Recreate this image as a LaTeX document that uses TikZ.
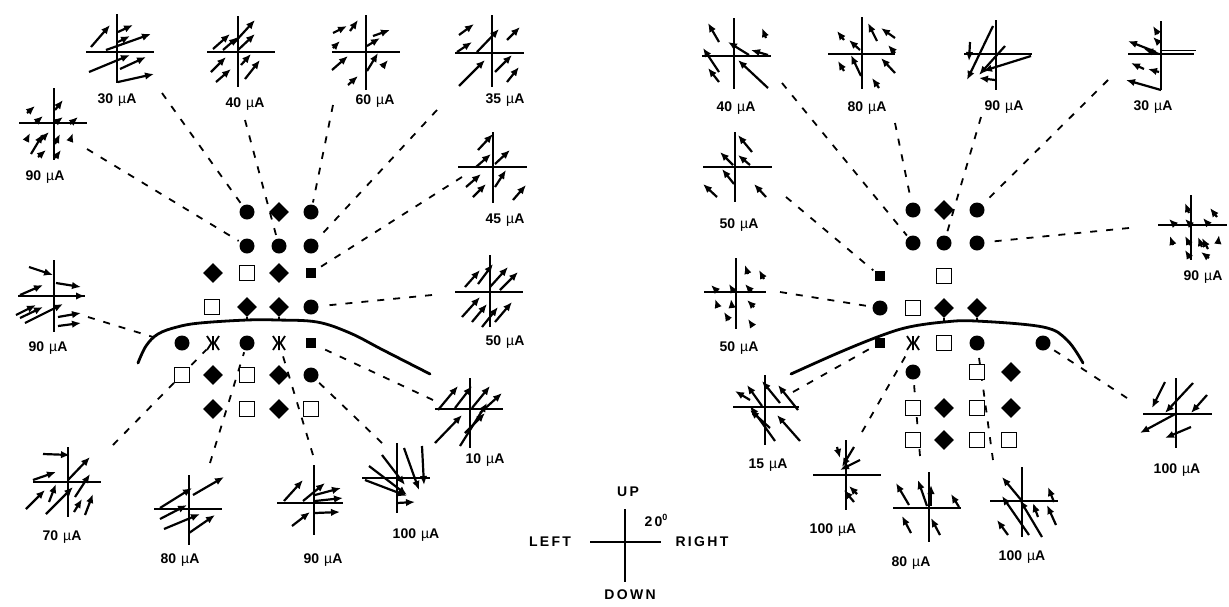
\documentclass[tikz,border=0pt]{standalone}
\usepackage{fontspec}
\setmainfont{Liberation Sans}
\usetikzlibrary{arrows.meta,shapes.geometric}
\pgfdeclarelayer{background}
\pgfsetlayers{background,main}
\newcommand\ua[1]{#1\hspace{5pt}{\mdseries µ}A}
\newcommand\vecpanel[7]{%
  \begin{scope}[shift={(#1,#2)}]
    \draw[axisline] (#3,0) -- (#4,0);
    \draw[axisline] (0,#5) -- (0,#6);
    \foreach \a/\b/\c/\d in {#7} {\draw[vec] (\a,\b) -- (\c,\d);}
  \end{scope}}
\begin{document}
\begin{tikzpicture}[x=1pt,y=-1pt,
  axisline/.style={line width=2.2pt},
  vec/.style={line width=2.2pt,-{Latex[length=9pt,width=7.5pt]}},
  conn/.style={line width=1.8pt,dash pattern=on 7pt off 9pt,shorten >=2pt},
  dot/.style={circle,fill=black,inner sep=0pt,minimum size=15pt},
  dia/.style={diamond,fill=black,inner sep=0pt,minimum size=20pt},
  osq/.style={rectangle,draw=black,fill=white,line width=1.6pt,inner sep=0pt,minimum size=15pt},
  fsq/.style={rectangle,fill=black,inner sep=0pt,minimum size=10pt},
  zhe/.style={circle,inner sep=0pt,minimum size=14pt},
  zhemark/.pic={\draw[line width=1.8pt] (0,-7) -- (0,7) (-6,-7) -- (-1.5,0) -- (-6,7) (6,-7) -- (1.5,0) -- (6,7) (-1.5,0) -- (1.5,0);},
  lab/.style={font=\fontsize{14}{16}\selectfont\bfseries,inner sep=0pt},
  curve/.style={line width=2.8pt,line cap=round}]
\useasboundingbox (0,0) rectangle (1229,606);

% ---------------- left markers ----------------
\node[dot] (L13) at (247,212) {};
\node[dia] (L14) at (279,212) {};
\node[dot] (L15) at (311,212) {};
\node[dot] (L23) at (247,246) {};
\node[dot] (L24) at (279,246) {};
\node[dot] (L25) at (311,246) {};
\node[dia] (L32) at (213,273) {};
\node[osq] (L33) at (247,273) {};
\node[dia] (L34) at (279,273) {};
\node[fsq] (L35) at (311,273) {};
\node[osq] (L42) at (212,307) {};
\node[dia] (L43) at (247,307) {};
\node[dia] (L44) at (279,307) {};
\node[dot] (L45) at (311,307) {};
\node[dot] (L51) at (182,343) {};
\node[zhe] (L52) at (213,343) {};
\node[dot] (L53) at (247,343) {};
\node[zhe] (L54) at (279,343) {};
\node[fsq] (L55) at (311,343) {};
\node[osq] (L61) at (182,375) {};
\node[dia] (L62) at (213,375) {};
\node[osq] (L63) at (247,375) {};
\node[dia] (L64) at (279,375) {};
\node[dot] (L65) at (311,375) {};
\node[dia] (L72) at (213,409) {};
\node[osq] (L73) at (247,409) {};
\node[dia] (L74) at (279,409) {};
\node[osq] (L75) at (311,409) {};
\pic at (L52) {zhemark};
\pic at (L54) {zhemark};
\draw[line width=1.6pt] (L43.south) -- ++(0,4);
\draw[line width=1.6pt] (L44.south) -- ++(0,4);

% ---------------- right markers ----------------
\node[dot] (R11) at (913,210) {};
\node[dia] (R12) at (944,210) {};
\node[dot] (R13) at (977,210) {};
\node[dot] (R21) at (913,243) {};
\node[dot] (R22) at (944,243) {};
\node[dot] (R23) at (977,243) {};
\node[fsq] (R30) at (880,276) {};
\node[osq] (R32) at (944,276) {};
\node[dot] (R40) at (880,308) {};
\node[osq] (R41) at (913,308) {};
\node[dia] (R42) at (944,308) {};
\node[dia] (R43) at (977,308) {};
\node[fsq] (R50) at (880,343) {};
\node[zhe] (R51) at (913,343) {};
\node[osq] (R52) at (944,343) {};
\node[dot] (R53) at (977,343) {};
\node[dot] (R55) at (1043,343) {};
\node[dot] (R61) at (913,372) {};
\node[osq] (R63) at (977,372) {};
\node[dia] (R64) at (1011,372) {};
\node[osq] (R71) at (913,408) {};
\node[dia] (R72) at (944,408) {};
\node[osq] (R73) at (977,408) {};
\node[dia] (R74) at (1011,408) {};
\node[osq] (R81) at (913,440) {};
\node[dia] (R82) at (944,440) {};
\node[osq] (R83) at (977,440) {};
\node[osq] (R84) at (1009,440) {};
\pic at (R51) {zhemark};
\draw[line width=1.6pt] (R42.south) -- ++(0,4);
\draw[line width=1.6pt] (R43.south) -- ++(0,4);

% ---------------- boundary curves ----------------
\draw[curve] plot[smooth,tension=0.6] coordinates {(138,363) (146,346) (158,334) (177,327) (200,323) (247,320) (277,320) (317,322) (350,333) (383,350) (430,374)};
\draw[curve] plot[smooth,tension=0.6] coordinates {(791,374) (838,353) (880,336) (909,327) (944,322) (976,321) (1043,327) (1067,340) (1083,363)};

% ---------------- connector ends ----------------
\coordinate (k90a) at (87,149);
\coordinate (k30) at (162,93);
\coordinate (k40) at (245,120);
\coordinate (k60) at (333,105);
\coordinate (k35) at (437,110);
\coordinate (k45) at (462,177);
\coordinate (k50) at (432,295);
\coordinate (k90b) at (88,317);
\coordinate (kcv) at (153,337);
\coordinate (k10) at (433,400);
\coordinate (k100a) at (382,443);
\coordinate (k90c) at (313,455);
\coordinate (k80a) at (210,463);
\coordinate (k70) at (113,445);
\coordinate (k40r) at (782,83);
\coordinate (k80r) at (895,123);
\coordinate (k90r) at (981,117);
\coordinate (k30r) at (1108,80);
\coordinate (k50r) at (786,197);
\coordinate (k50s) at (780,292);
\coordinate (k90s) at (1129,228);
\coordinate (k15) at (793,392);
\coordinate (k100r) at (1127,398);
\coordinate (k100s) at (862,432);
\coordinate (k80b) at (920,456);
\coordinate (k100b) at (993,460);

\begin{pgfonlayer}{background}
\draw[conn] (k90a) -- (L23);
\draw[conn] (k30) -- (L13);
\draw[conn] (k40) -- (L24);
\draw[conn] (k60) -- (L15);
\draw[conn] (k35) -- (L25);
\draw[conn] (k45) -- (L35);
\draw[conn] (k50) -- (L45);
\draw[conn,shorten >=0pt] (k90b) -- (kcv);
\draw[conn] (k10) -- (L55);
\draw[conn] (k100a) -- (L65);
\draw[conn] (k90c) -- (L54);
\draw[conn] (k80a) -- (L53);
\draw[conn] (k70) -- (L52);
\draw[conn] (k40r) -- (R21);
\draw[conn] (k80r) -- (R11);
\draw[conn] (k90r) -- (R22);
\draw[conn] (k30r) -- (R13);
\draw[conn] (k50r) -- (R30);
\draw[conn] (k50s) -- (R40);
\draw[conn] (k90s) -- (R23);
\draw[conn] (k15) -- (R50);
\draw[conn] (k100r) -- (R55);
\draw[conn] (k100s) -- (R51);
\draw[conn] (k80b) -- (R61);
\draw[conn] (k100b) -- (R53);
\end{pgfonlayer}

% ---------------- left vector panels ----------------
\vecpanel{117}{52}{-31}{37}{-38}{31}{-26/-5/-7/-27, 1/-20/16/-27, 1/-10/13/-16, -11/-2/34/-18, -28/20/13/3, 3/17/29/5, 1/30/37/22}
\vecpanel{238}{52}{-31}{37}{-36}{35}{-25/-3/-8/-18, -15/-2/0/-15, -5/-8/17/-32, 0/-2/17/-18, -27/20/-12/5, -22/30/-7/17, 3/13/13/2, 7/27/22/8}
\vecpanel{366}{52}{-34}{34}{-37}{38}{-33/-19/-19/-26, -16/-21/-8/-32, -33/-4/-26/-11, 1/-6/14/-14, 7/-16/24/-22, -34/18/-18/4, -18/33/-8/24, 1/19/12/1, 16/15/22/8}
\vecpanel{492}{53}{-37}{32}{-38}{34}{-33/-18/-18/-29, -35/-1/-20/-11, -15/-1/7/-24, 15/-13/28/-26, -33/33/-7/7, 3/19/20/2, 15/29/27/14}
\vecpanel{493}{167}{-35}{34}{-35}{36}{-15/-17/0/-33, -17/0/-2/-13, 2/-3/17/-17, -27/20/-12/7, -20/30/-7/17, 2/20/13/3, 20/33/33/18}
\vecpanel{490}{292}{-35}{33}{-37}{35}{-25/-5/-10/-22, -12/-8/3/-28, 0/-5/18/-25, 10/-2/28/-20, -28/25/-10/5, -18/30/-3/12, -8/35/8/15, 5/30/22/10}
\vecpanel{470}{409}{-35}{33}{-31}{39}{-32/1/-12/-23, -15/-1/2/-23, 2/-1/20/-23, 10/4/32/-16, -35/34/-8/6, -10/37/17/-6, -5/24/15/4}
\vecpanel{54}{123}{-35}{33}{-35}{37}{-27/-10/-19/-17, 1/-13/9/-23, -19/0/-11/-7, 1/0/9/-6, 16/1/24/-6, -28/18/-24/10, -23/31/-11/11, -14/18/-5/9, 1/21/6/11, -16/34/-8/27, 1/35/7/27, 16/18/19/10}
\vecpanel{54}{296}{-36}{31}{-36}{36}{-25/-29/-1/-21, -34/-1/-11/-11, 2/-13/27/-9, 1/0/31/0, -38/19/-18/9, -34/22/-11/11, -29/27/9/8, 4/21/27/17, 4/30/27/27}
\vecpanel{68}{482}{-35}{33}{-35}{35}{-25/-28/2/-27, -35/-2/-12/-10, 0/-2/22/-25, 7/15/22/-8, -42/27/-23/8, -19/20/-12/2, -22/32/5/5, 6/30/14/17, 17/33/25/12}
\vecpanel{189}{509}{-35}{33}{-34}{36}{-29/-1/3/-21, 4/-14/35/-32, -29/10/-2/-4, -25/20/11/5, 0/24/26/6}
\vecpanel{314}{503}{-37}{29}{-38}{32}{-30/-2/-11/-23, -11/-2/11/-20, 1/-8/27/-15, 1/-2/29/-5, -22/23/-4/9, 1/10/26/9}
\vecpanel{397}{478}{-35}{33}{-35}{35}{-15/-23/8/7, 7/-30/22/12, 25/-32/27/7, -28/-12/10/17, -32/2/10/18, 0/25/18/24}

% ---------------- right vector panels ----------------
\vecpanel{734}{56}{-32}{37}{-38}{33}{-15/-14/-26/-33, 32/-18/28/-28, 15/-1/-6/-14, 34/-1/17/-6, -15/16/-31/-8, -15/26/-26/12, 34/32/4/4}
\vecpanel{862}{54}{-34}{33}{-37}{35}{-18/-14/-25/-23, -2/-4/-13/-14, 15/-13/6/-31, 33/-16/19/-26, 33/-1/26/-9, -18/17/-24/7, -1/22/-11/1, 33/19/19/4, 17/34/10/24}
\vecpanel{996}{54}{-32}{36}{-34}{36}{-3/-28/-29/26, -26/-12/-27/7, 9/-8/-17/21, 35/2/-13/17, -1/26/-17/24}
\vecpanel{1161}{54}{-33}{33}{-33}{36}{-3/-20/-8/-28, -2/-11/-8/-17, -5/-2/-33/-13, -2/0/-17/-5, -17/15/-30/9, -2/18/-13/15, 0/36/-35/26}
\draw[line width=0.9pt] (1161,50) -- (1196,50);
\vecpanel{735}{167}{-32}{37}{-35}{35}{17/-15/3/-32, -2/-2/-15/-15, 15/-2/3/-12, -1/17/-13/2, -18/30/-32/17, 31/30/19/17}
\vecpanel{736}{292}{-32}{30}{-34}{37}{12/-18/9/-27, 28/-13/23/-22, -18/0/-25/-7, -2/0/-7/-8, 16/0/9/-8, -18/15/-21/7, -4/15/-5/7, 18/15/11/8, -7/28/-12/20, 16/33/12/27}
\vecpanel{1191}{225}{-33}{36}{-30}{35}{-2/-12/-6/-22, 26/-8/19/-17, -16/0/-22/-6, 0/0/-6/-6, 18/0/12/-7, -18/20/-21/11, -1/20/-6/11, 11/22/7/12, 17/24/11/13, 27/18/28/10, -1/33/-6/25, 18/33/10/27}
\vecpanel{765}{407}{-32}{34}{-32}{38}{-15/-7/-30/-16, -3/-1/-18/-22, 15/-4/-3/-26, 33/3/13/-22, 10/34/-15/-1, 5/21/-15/3, 35/34/12/8}
\vecpanel{846}{475}{-33}{35}{-35}{35}{-9/-28/-6/-17, 8/-28/-4/-8, 14/-15/-6/-5, 11/19/3/11, 8/27/-2/15}
\vecpanel{929}{508}{-36}{32}{-36}{34}{-20/-3/-33/-25, -2/-2/-11/-28, 2/-2/2/-23, 30/-1/22/-14, -18/25/-27/8, 11/27/2/10}
\vecpanel{1022}{501}{-32}{36}{-34}{36}{0/0/-20/-24, 32/1/26/-14, -14/34/-25/19, 7/34/-20/-5, 20/36/-2/-1, 16/16/11/2, 34/24/25/4}
\vecpanel{1176}{414}{-33}{36}{-36}{34}{-11/-32/-24/-6, 17/-31/-11/-1, 31/-19/15/-1, 1/-1/-36/19, 15/13/-11/24}

% ---------------- labels ----------------
\node[lab] (t30) at (117,100) {\ua{30}};
\node[lab] (t40) at (245,104) {\ua{40}};
\node[lab] (t60) at (375,101) {\ua{60}};
\node[lab] (t35) at (505,100) {\ua{35}};
\node[lab] (t45) at (505,220) {\ua{45}};
\node[lab] (t50) at (505,342) {\ua{50}};
\node[lab] (t90a) at (45,177) {\ua{90}};
\node[lab] (t90b) at (48,348) {\ua{90}};
\node[lab] (t10) at (485,460) {\ua{10}};
\node[lab] (t100a) at (416,535) {\ua{100}};
\node[lab] (t90c) at (323,560) {\ua{90}};
\node[lab] (t80a) at (180,560) {\ua{80}};
\node[lab] (t70) at (62,537) {\ua{70}};
\node[lab] (t40r) at (736,108) {\ua{40}};
\node[lab] (t80r) at (867,108) {\ua{80}};
\node[lab] (t90r) at (1004,107) {\ua{90}};
\node[lab] (t30r) at (1153,107) {\ua{30}};
\node[lab] (t50r) at (739,225) {\ua{50}};
\node[lab] (t50s) at (739,348) {\ua{50}};
\node[lab] (t90s) at (1203,277) {\ua{90}};
\node[lab] (t15) at (768,465) {\ua{15}};
\node[lab] (t100s) at (833,530) {\ua{100}};
\node[lab] (t80b) at (911,563) {\ua{80}};
\node[lab] (t100b) at (1022,557) {\ua{100}};
\node[lab] (t100r) at (1177,470) {\ua{100}};

% ---------------- orientation key ----------------
\coordinate (oc) at (625,542);
\draw[line width=2.6pt] (590,542) -- (661,542);
\draw[line width=2.6pt] (625,509) -- (625,582);
\node[lab] (kup) at (628,492) {U\,P};
\node[lab] (kdown) at (630,595) {D\,O\,W\,N};
\node[lab] (kleft) at (550,542) {L\,E\,F\,T};
\node[lab] (kright) at (702,542) {R\,I\,G\,H\,T};
\node[lab] (kdeg) at (656,520) {2\,0\raisebox{6pt}{\fontsize{9}{9}\selectfont 0}};
\end{tikzpicture}
\end{document}
